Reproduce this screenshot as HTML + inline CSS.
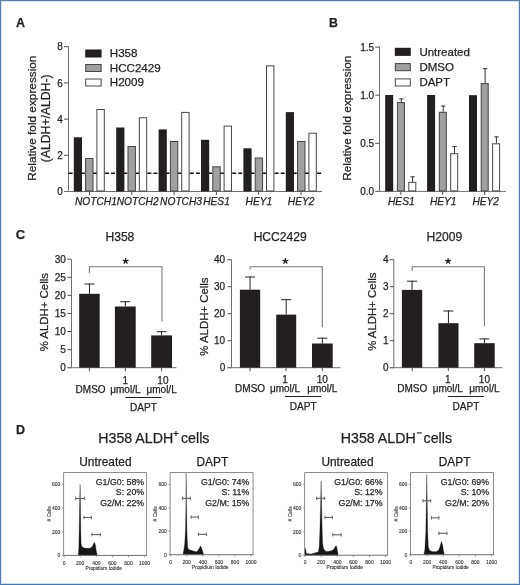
<!DOCTYPE html>
<html><head><meta charset="utf-8"><style>
html,body{margin:0;padding:0;background:#fff;}
body{width:520px;height:585px;overflow:hidden;position:relative;}
.frame{position:absolute;left:0;top:0;width:520px;height:585px;box-sizing:border-box;border:1px solid;border-color:#5f7d9e #5c7fa3 #4a78ad #5a80aa;}
.frame2{position:absolute;left:1px;top:1px;width:518px;height:583px;box-sizing:border-box;border:1px solid #cfe2f4;}
svg{position:absolute;left:0;top:0;font-family:"Liberation Sans", sans-serif;filter:blur(0.3px);}
</style></head><body>
<svg width="520" height="585" viewBox="0 0 520 585">
<text x="16" y="27.3" font-size="12.5" text-anchor="start" font-weight="bold" fill="#231f20" stroke="#231f20" stroke-width="0.25">A</text>
<line x1="68.5" y1="46.5" x2="68.5" y2="191.5" stroke="#707070" stroke-width="1"/>
<line x1="64" y1="191.5" x2="68.5" y2="191.5" stroke="#505050" stroke-width="1"/>
<text x="62.8" y="195.1" font-size="10" text-anchor="end" fill="#231f20" stroke="#231f20" stroke-width="0.25">0</text>
<line x1="64" y1="155.3" x2="68.5" y2="155.3" stroke="#505050" stroke-width="1"/>
<text x="62.8" y="158.9" font-size="10" text-anchor="end" fill="#231f20" stroke="#231f20" stroke-width="0.25">2</text>
<line x1="64" y1="119.1" x2="68.5" y2="119.1" stroke="#505050" stroke-width="1"/>
<text x="62.8" y="122.69999999999999" font-size="10" text-anchor="end" fill="#231f20" stroke="#231f20" stroke-width="0.25">4</text>
<line x1="64" y1="82.89999999999999" x2="68.5" y2="82.89999999999999" stroke="#505050" stroke-width="1"/>
<text x="62.8" y="86.49999999999999" font-size="10" text-anchor="end" fill="#231f20" stroke="#231f20" stroke-width="0.25">6</text>
<line x1="64" y1="46.69999999999999" x2="68.5" y2="46.69999999999999" stroke="#505050" stroke-width="1"/>
<text x="62.8" y="50.29999999999999" font-size="10" text-anchor="end" fill="#231f20" stroke="#231f20" stroke-width="0.25">8</text>
<line x1="64" y1="191.5" x2="322" y2="191.5" stroke="#707070" stroke-width="1"/>
<text x="36.2" y="118.2" font-size="11.8" text-anchor="middle" fill="#231f20" stroke="#231f20" stroke-width="0.25" transform="rotate(-90 36.2 118.2)">Relative fold expression</text>
<text x="50.0" y="118.3" font-size="12.2" text-anchor="middle" fill="#231f20" stroke="#231f20" stroke-width="0.25" transform="rotate(-90 50.0 118.3)">(ALDH+/ALDH-)</text>
<line x1="68.6" y1="173.3" x2="322.6" y2="173.3" stroke="#111" stroke-width="1.6" stroke-dasharray="4 2.06"/>
<rect x="73.8" y="137.3" width="8.2" height="54.19999999999999" fill="#231f20"/>
<rect x="85.6" y="158.5" width="7.4" height="32.5" fill="#a0a0a0" stroke="#444444" stroke-width="1"/>
<rect x="96.9" y="109.5" width="7.4" height="81.5" fill="#fff" stroke="#484848" stroke-width="1"/>
<rect x="116.19999999999999" y="127.5" width="8.2" height="64.0" fill="#231f20"/>
<rect x="128.0" y="146.5" width="7.4" height="44.5" fill="#a0a0a0" stroke="#444444" stroke-width="1"/>
<rect x="139.3" y="117.8" width="7.4" height="73.2" fill="#fff" stroke="#484848" stroke-width="1"/>
<rect x="158.6" y="129.4" width="8.2" height="62.099999999999994" fill="#231f20"/>
<rect x="170.39999999999998" y="141.5" width="7.4" height="49.5" fill="#a0a0a0" stroke="#444444" stroke-width="1"/>
<rect x="181.7" y="112.4" width="7.4" height="78.6" fill="#fff" stroke="#484848" stroke-width="1"/>
<rect x="201.0" y="139.8" width="8.2" height="51.69999999999999" fill="#231f20"/>
<rect x="212.79999999999998" y="166.8" width="7.4" height="24.19999999999999" fill="#a0a0a0" stroke="#444444" stroke-width="1"/>
<rect x="224.1" y="126.1" width="7.4" height="64.9" fill="#fff" stroke="#484848" stroke-width="1"/>
<rect x="243.39999999999998" y="148.3" width="8.2" height="43.19999999999999" fill="#231f20"/>
<rect x="255.2" y="158.0" width="7.4" height="33.0" fill="#a0a0a0" stroke="#444444" stroke-width="1"/>
<rect x="266.5" y="65.9" width="7.4" height="125.1" fill="#fff" stroke="#484848" stroke-width="1"/>
<rect x="285.8" y="112.1" width="8.2" height="79.4" fill="#231f20"/>
<rect x="297.6" y="141.5" width="7.4" height="49.5" fill="#a0a0a0" stroke="#444444" stroke-width="1"/>
<rect x="308.9" y="133.2" width="7.4" height="57.80000000000001" fill="#fff" stroke="#484848" stroke-width="1"/>
<line x1="89.5" y1="191.5" x2="89.5" y2="195" stroke="#505050" stroke-width="1"/>
<line x1="131.8" y1="191.5" x2="131.8" y2="195" stroke="#505050" stroke-width="1"/>
<line x1="174.1" y1="191.5" x2="174.1" y2="195" stroke="#505050" stroke-width="1"/>
<line x1="216.39999999999998" y1="191.5" x2="216.39999999999998" y2="195" stroke="#505050" stroke-width="1"/>
<line x1="258.7" y1="191.5" x2="258.7" y2="195" stroke="#505050" stroke-width="1"/>
<line x1="301.0" y1="191.5" x2="301.0" y2="195" stroke="#505050" stroke-width="1"/>
<text x="75.0" y="204.8" font-size="10.2" text-anchor="start" font-style="italic" fill="#231f20" stroke="#231f20" stroke-width="0.25">NOTCH1</text>
<text x="116.7" y="204.8" font-size="10.2" text-anchor="start" font-style="italic" fill="#231f20" stroke="#231f20" stroke-width="0.25">NOTCH2</text>
<text x="160.10000000000002" y="204.8" font-size="10.2" text-anchor="start" font-style="italic" fill="#231f20" stroke="#231f20" stroke-width="0.25">NOTCH3</text>
<text x="203.20000000000002" y="204.8" font-size="10.2" text-anchor="start" font-style="italic" fill="#231f20" stroke="#231f20" stroke-width="0.25">HES1</text>
<text x="245.60000000000002" y="204.8" font-size="10.2" text-anchor="start" font-style="italic" fill="#231f20" stroke="#231f20" stroke-width="0.25">HEY1</text>
<text x="287.8" y="204.8" font-size="10.2" text-anchor="start" font-style="italic" fill="#231f20" stroke="#231f20" stroke-width="0.25">HEY2</text>
<rect x="85.2" y="49.5" width="16.4" height="8" fill="#231f20"/>
<text x="109.8" y="57.0" font-size="11.6" text-anchor="start" fill="#231f20" stroke="#231f20" stroke-width="0.25">H358</text>
<rect x="85.7" y="64.5" width="15.399999999999999" height="7" fill="#a0a0a0" stroke="#444444" stroke-width="1"/>
<text x="109.8" y="71.5" font-size="11.6" text-anchor="start" fill="#231f20" stroke="#231f20" stroke-width="0.25">HCC2429</text>
<rect x="85.7" y="79.0" width="15.399999999999999" height="7" fill="#fff" stroke="#484848" stroke-width="1"/>
<text x="109.8" y="86.0" font-size="11.6" text-anchor="start" fill="#231f20" stroke="#231f20" stroke-width="0.25">H2009</text>
<text x="329.0" y="27.0" font-size="12.3" text-anchor="start" font-weight="bold" fill="#231f20" stroke="#231f20" stroke-width="0.25">B</text>
<line x1="379.5" y1="46.5" x2="379.5" y2="191.4" stroke="#707070" stroke-width="1"/>
<line x1="375.2" y1="191.4" x2="379.5" y2="191.4" stroke="#505050" stroke-width="1"/>
<text x="374.2" y="195.0" font-size="10" text-anchor="end" fill="#231f20" stroke="#231f20" stroke-width="0.25">0.0</text>
<line x1="375.2" y1="143.3" x2="379.5" y2="143.3" stroke="#505050" stroke-width="1"/>
<text x="374.2" y="146.9" font-size="10" text-anchor="end" fill="#231f20" stroke="#231f20" stroke-width="0.25">0.5</text>
<line x1="375.2" y1="95.2" x2="379.5" y2="95.2" stroke="#505050" stroke-width="1"/>
<text x="374.2" y="98.8" font-size="10" text-anchor="end" fill="#231f20" stroke="#231f20" stroke-width="0.25">1.0</text>
<line x1="375.2" y1="47.099999999999994" x2="379.5" y2="47.099999999999994" stroke="#505050" stroke-width="1"/>
<text x="374.2" y="50.699999999999996" font-size="10" text-anchor="end" fill="#231f20" stroke="#231f20" stroke-width="0.25">1.5</text>
<line x1="375.2" y1="191.4" x2="506" y2="191.4" stroke="#707070" stroke-width="1"/>
<text x="351.2" y="118.2" font-size="11.8" text-anchor="middle" fill="#231f20" stroke="#231f20" stroke-width="0.25" transform="rotate(-90 351.2 118.2)">Relative fold expression</text>
<rect x="385.2" y="95" width="8" height="96.4" fill="#231f20"/>
<line x1="401.29999999999995" y1="98.4" x2="401.29999999999995" y2="102.1" stroke="#333" stroke-width="1"/>
<line x1="399.09999999999997" y1="98.9" x2="403.5" y2="98.9" stroke="#333" stroke-width="1"/>
<rect x="397.4" y="102.6" width="7" height="88.30000000000001" fill="#a0a0a0" stroke="#444444" stroke-width="1"/>
<line x1="412.6" y1="176.3" x2="412.6" y2="181.8" stroke="#333" stroke-width="1"/>
<line x1="410.40000000000003" y1="176.8" x2="414.8" y2="176.8" stroke="#333" stroke-width="1"/>
<rect x="408.8" y="182.3" width="7" height="8.599999999999994" fill="#fff" stroke="#484848" stroke-width="1"/>
<line x1="400.9" y1="191.4" x2="400.9" y2="195" stroke="#505050" stroke-width="1"/>
<rect x="427.09999999999997" y="95" width="8" height="96.4" fill="#231f20"/>
<line x1="443.19999999999993" y1="105.6" x2="443.19999999999993" y2="111.8" stroke="#333" stroke-width="1"/>
<line x1="440.99999999999994" y1="106.1" x2="445.4" y2="106.1" stroke="#333" stroke-width="1"/>
<rect x="439.29999999999995" y="112.3" width="7" height="78.60000000000001" fill="#a0a0a0" stroke="#444444" stroke-width="1"/>
<line x1="454.5" y1="146" x2="454.5" y2="153.2" stroke="#333" stroke-width="1"/>
<line x1="452.3" y1="146.5" x2="456.7" y2="146.5" stroke="#333" stroke-width="1"/>
<rect x="450.7" y="153.7" width="7" height="37.20000000000002" fill="#fff" stroke="#484848" stroke-width="1"/>
<line x1="442.79999999999995" y1="191.4" x2="442.79999999999995" y2="195" stroke="#505050" stroke-width="1"/>
<rect x="469.0" y="95.2" width="8" height="96.2" fill="#231f20"/>
<line x1="485.09999999999997" y1="68.2" x2="485.09999999999997" y2="83.1" stroke="#333" stroke-width="1"/>
<line x1="482.9" y1="68.7" x2="487.3" y2="68.7" stroke="#333" stroke-width="1"/>
<rect x="481.2" y="83.6" width="7" height="107.30000000000001" fill="#a0a0a0" stroke="#444444" stroke-width="1"/>
<line x1="496.40000000000003" y1="136.4" x2="496.40000000000003" y2="143.3" stroke="#333" stroke-width="1"/>
<line x1="494.20000000000005" y1="136.9" x2="498.6" y2="136.9" stroke="#333" stroke-width="1"/>
<rect x="492.6" y="143.8" width="7" height="47.099999999999994" fill="#fff" stroke="#484848" stroke-width="1"/>
<line x1="484.7" y1="191.4" x2="484.7" y2="195" stroke="#505050" stroke-width="1"/>
<text x="401.3" y="204.8" font-size="10.2" text-anchor="middle" font-style="italic" fill="#231f20" stroke="#231f20" stroke-width="0.25">HES1</text>
<text x="443.2" y="204.8" font-size="10.2" text-anchor="middle" font-style="italic" fill="#231f20" stroke="#231f20" stroke-width="0.25">HEY1</text>
<text x="485.7" y="204.8" font-size="10.2" text-anchor="middle" font-style="italic" fill="#231f20" stroke="#231f20" stroke-width="0.25">HEY2</text>
<rect x="394.8" y="47.8" width="16" height="8.1" fill="#231f20"/>
<text x="419.4" y="55.699999999999996" font-size="11.5" text-anchor="start" fill="#231f20" stroke="#231f20" stroke-width="0.25">Untreated</text>
<rect x="395.3" y="63.599999999999994" width="15" height="7.1" fill="#a0a0a0" stroke="#444444" stroke-width="1"/>
<text x="419.4" y="71.0" font-size="11.5" text-anchor="start" fill="#231f20" stroke="#231f20" stroke-width="0.25">DMSO</text>
<rect x="395.3" y="78.9" width="15" height="7.1" fill="#fff" stroke="#484848" stroke-width="1"/>
<text x="419.4" y="86.30000000000001" font-size="11.5" text-anchor="start" fill="#231f20" stroke="#231f20" stroke-width="0.25">DAPT</text>
<text x="15.7" y="239.0" font-size="13" text-anchor="start" font-weight="bold" fill="#231f20" stroke="#231f20" stroke-width="0.25">C</text>
<line x1="71.5" y1="259.5" x2="71.5" y2="367.7" stroke="#707070" stroke-width="1"/>
<line x1="67.5" y1="367.7" x2="71.5" y2="367.7" stroke="#505050" stroke-width="1"/>
<text x="65.8" y="371.3" font-size="10" text-anchor="end" fill="#231f20" stroke="#231f20" stroke-width="0.25">0</text>
<line x1="67.5" y1="349.615" x2="71.5" y2="349.615" stroke="#505050" stroke-width="1"/>
<text x="65.8" y="353.21500000000003" font-size="10" text-anchor="end" fill="#231f20" stroke="#231f20" stroke-width="0.25">5</text>
<line x1="67.5" y1="331.53" x2="71.5" y2="331.53" stroke="#505050" stroke-width="1"/>
<text x="65.8" y="335.13" font-size="10" text-anchor="end" fill="#231f20" stroke="#231f20" stroke-width="0.25">10</text>
<line x1="67.5" y1="313.445" x2="71.5" y2="313.445" stroke="#505050" stroke-width="1"/>
<text x="65.8" y="317.045" font-size="10" text-anchor="end" fill="#231f20" stroke="#231f20" stroke-width="0.25">15</text>
<line x1="67.5" y1="295.36" x2="71.5" y2="295.36" stroke="#505050" stroke-width="1"/>
<text x="65.8" y="298.96000000000004" font-size="10" text-anchor="end" fill="#231f20" stroke="#231f20" stroke-width="0.25">20</text>
<line x1="67.5" y1="277.275" x2="71.5" y2="277.275" stroke="#505050" stroke-width="1"/>
<text x="65.8" y="280.875" font-size="10" text-anchor="end" fill="#231f20" stroke="#231f20" stroke-width="0.25">25</text>
<line x1="67.5" y1="259.19" x2="71.5" y2="259.19" stroke="#505050" stroke-width="1"/>
<text x="65.8" y="262.79" font-size="10" text-anchor="end" fill="#231f20" stroke="#231f20" stroke-width="0.25">30</text>
<line x1="67.5" y1="367.7" x2="176.5" y2="367.7" stroke="#707070" stroke-width="1"/>
<text x="119.9" y="240.6" font-size="12.1" text-anchor="middle" fill="#231f20" stroke="#231f20" stroke-width="0.25">H358</text>
<line x1="89.45" y1="283.5" x2="89.45" y2="293.8" stroke="#222" stroke-width="1"/>
<line x1="84.45" y1="284.0" x2="94.45" y2="284.0" stroke="#222" stroke-width="1"/>
<rect x="79.2" y="293.8" width="20.5" height="73.89999999999998" fill="#231f20"/>
<line x1="125.3" y1="301.2" x2="125.3" y2="306.5" stroke="#222" stroke-width="1"/>
<line x1="120.3" y1="301.7" x2="130.3" y2="301.7" stroke="#222" stroke-width="1"/>
<rect x="114.9" y="306.5" width="20.799999999999983" height="61.19999999999999" fill="#231f20"/>
<line x1="161.6" y1="331.2" x2="161.6" y2="335.4" stroke="#222" stroke-width="1"/>
<line x1="156.6" y1="331.7" x2="166.6" y2="331.7" stroke="#222" stroke-width="1"/>
<rect x="151.2" y="335.4" width="20.80000000000001" height="32.30000000000001" fill="#231f20"/>
<line x1="89.4" y1="367.7" x2="89.4" y2="371.2" stroke="#505050" stroke-width="1"/>
<line x1="125.4" y1="367.7" x2="125.4" y2="371.2" stroke="#505050" stroke-width="1"/>
<line x1="161.6" y1="367.7" x2="161.6" y2="371.2" stroke="#505050" stroke-width="1"/>
<polyline points="89.4,273 89.4,266.8 162,266.8 162,321.5" fill="none" stroke="#7a7a7a" stroke-width="1.1"/>
<path d="M125.60 261.10 L125.60 258.55 M125.60 261.10 L128.03 260.31 M125.60 261.10 L127.10 263.16 M125.60 261.10 L124.10 263.16 M125.60 261.10 L123.17 260.31 " stroke="#1a1a1a" stroke-width="1.3" stroke-linecap="round" fill="none"/>
<text x="90.60000000000001" y="392.8" font-size="10" text-anchor="middle" fill="#231f20" stroke="#231f20" stroke-width="0.25">DMSO</text>
<text x="125.4" y="383.6" font-size="10" text-anchor="middle" fill="#231f20" stroke="#231f20" stroke-width="0.25">1</text>
<text x="125.4" y="392.8" font-size="10" text-anchor="middle" fill="#231f20" stroke="#231f20" stroke-width="0.25">μmol/L</text>
<text x="162.9" y="383.6" font-size="10" text-anchor="middle" fill="#231f20" stroke="#231f20" stroke-width="0.25">10</text>
<text x="161.6" y="392.8" font-size="10" text-anchor="middle" fill="#231f20" stroke="#231f20" stroke-width="0.25">μmol/L</text>
<line x1="125.4" y1="397.5" x2="161.6" y2="397.5" stroke="#222" stroke-width="1"/>
<text x="143.5" y="410.6" font-size="10.1" text-anchor="middle" fill="#231f20" stroke="#231f20" stroke-width="0.25">DAPT</text>
<text x="48.0" y="312.2" font-size="11.4" text-anchor="middle" fill="#231f20" stroke="#231f20" stroke-width="0.25" transform="rotate(-90 48.0 312.2)">% ALDH+ Cells</text>
<line x1="231.5" y1="259.5" x2="231.5" y2="367.7" stroke="#707070" stroke-width="1"/>
<line x1="227.5" y1="367.7" x2="231.5" y2="367.7" stroke="#505050" stroke-width="1"/>
<text x="225.2" y="371.3" font-size="10" text-anchor="end" fill="#231f20" stroke="#231f20" stroke-width="0.25">0</text>
<line x1="227.5" y1="340.7" x2="231.5" y2="340.7" stroke="#505050" stroke-width="1"/>
<text x="225.2" y="344.3" font-size="10" text-anchor="end" fill="#231f20" stroke="#231f20" stroke-width="0.25">10</text>
<line x1="227.5" y1="313.7" x2="231.5" y2="313.7" stroke="#505050" stroke-width="1"/>
<text x="225.2" y="317.3" font-size="10" text-anchor="end" fill="#231f20" stroke="#231f20" stroke-width="0.25">20</text>
<line x1="227.5" y1="286.7" x2="231.5" y2="286.7" stroke="#505050" stroke-width="1"/>
<text x="225.2" y="290.3" font-size="10" text-anchor="end" fill="#231f20" stroke="#231f20" stroke-width="0.25">30</text>
<line x1="227.5" y1="259.7" x2="231.5" y2="259.7" stroke="#505050" stroke-width="1"/>
<text x="225.2" y="263.3" font-size="10" text-anchor="end" fill="#231f20" stroke="#231f20" stroke-width="0.25">40</text>
<line x1="227.5" y1="367.7" x2="340.5" y2="367.7" stroke="#707070" stroke-width="1"/>
<text x="280.2" y="240.6" font-size="12.1" text-anchor="middle" fill="#231f20" stroke="#231f20" stroke-width="0.25">HCC2429</text>
<line x1="250.05" y1="276.5" x2="250.05" y2="289.7" stroke="#222" stroke-width="1"/>
<line x1="245.05" y1="277.0" x2="255.05" y2="277.0" stroke="#222" stroke-width="1"/>
<rect x="239.9" y="289.7" width="20.299999999999983" height="78.0" fill="#231f20"/>
<line x1="286.2" y1="299.2" x2="286.2" y2="314.6" stroke="#222" stroke-width="1"/>
<line x1="281.2" y1="299.7" x2="291.2" y2="299.7" stroke="#222" stroke-width="1"/>
<rect x="276.2" y="314.6" width="20.0" height="53.099999999999966" fill="#231f20"/>
<line x1="322.35" y1="337.7" x2="322.35" y2="343.5" stroke="#222" stroke-width="1"/>
<line x1="317.35" y1="338.2" x2="327.35" y2="338.2" stroke="#222" stroke-width="1"/>
<rect x="312" y="343.5" width="20.69999999999999" height="24.19999999999999" fill="#231f20"/>
<line x1="250.1" y1="367.7" x2="250.1" y2="371.2" stroke="#505050" stroke-width="1"/>
<line x1="286" y1="367.7" x2="286" y2="371.2" stroke="#505050" stroke-width="1"/>
<line x1="322.3" y1="367.7" x2="322.3" y2="371.2" stroke="#505050" stroke-width="1"/>
<polyline points="250.1,269.6 250.1,266.7 322.3,266.7 322.3,327.3" fill="none" stroke="#7a7a7a" stroke-width="1.1"/>
<path d="M285.40 261.10 L285.40 258.55 M285.40 261.10 L287.83 260.31 M285.40 261.10 L286.90 263.16 M285.40 261.10 L283.90 263.16 M285.40 261.10 L282.97 260.31 " stroke="#1a1a1a" stroke-width="1.3" stroke-linecap="round" fill="none"/>
<text x="250.1" y="392.1" font-size="10" text-anchor="middle" fill="#231f20" stroke="#231f20" stroke-width="0.25">DMSO</text>
<text x="285.0" y="382.8" font-size="10" text-anchor="middle" fill="#231f20" stroke="#231f20" stroke-width="0.25">1</text>
<text x="285.0" y="392.0" font-size="10" text-anchor="middle" fill="#231f20" stroke="#231f20" stroke-width="0.25">μmol/L</text>
<text x="322.3" y="382.8" font-size="10" text-anchor="middle" fill="#231f20" stroke="#231f20" stroke-width="0.25">10</text>
<text x="322.3" y="392.0" font-size="10" text-anchor="middle" fill="#231f20" stroke="#231f20" stroke-width="0.25">μmol/L</text>
<line x1="285.0" y1="396.5" x2="321.3" y2="396.5" stroke="#222" stroke-width="1"/>
<text x="303.15" y="409.8" font-size="10.1" text-anchor="middle" fill="#231f20" stroke="#231f20" stroke-width="0.25">DAPT</text>
<text x="208.5" y="316.6" font-size="11.4" text-anchor="middle" fill="#231f20" stroke="#231f20" stroke-width="0.25" transform="rotate(-90 208.5 316.6)">% ALDH+ Cells</text>
<line x1="393.8" y1="259.5" x2="393.8" y2="367.7" stroke="#707070" stroke-width="1"/>
<line x1="389.8" y1="367.7" x2="393.8" y2="367.7" stroke="#505050" stroke-width="1"/>
<text x="388.5" y="371.3" font-size="10" text-anchor="end" fill="#231f20" stroke="#231f20" stroke-width="0.25">0</text>
<line x1="389.8" y1="340.7" x2="393.8" y2="340.7" stroke="#505050" stroke-width="1"/>
<text x="388.5" y="344.3" font-size="10" text-anchor="end" fill="#231f20" stroke="#231f20" stroke-width="0.25">1</text>
<line x1="389.8" y1="313.7" x2="393.8" y2="313.7" stroke="#505050" stroke-width="1"/>
<text x="388.5" y="317.3" font-size="10" text-anchor="end" fill="#231f20" stroke="#231f20" stroke-width="0.25">2</text>
<line x1="389.8" y1="286.7" x2="393.8" y2="286.7" stroke="#505050" stroke-width="1"/>
<text x="388.5" y="290.3" font-size="10" text-anchor="end" fill="#231f20" stroke="#231f20" stroke-width="0.25">3</text>
<line x1="389.8" y1="259.7" x2="393.8" y2="259.7" stroke="#505050" stroke-width="1"/>
<text x="388.5" y="263.3" font-size="10" text-anchor="end" fill="#231f20" stroke="#231f20" stroke-width="0.25">4</text>
<line x1="389.8" y1="367.7" x2="502.5" y2="367.7" stroke="#707070" stroke-width="1"/>
<text x="444.4" y="240.6" font-size="12.1" text-anchor="middle" fill="#231f20" stroke="#231f20" stroke-width="0.25">H2009</text>
<line x1="412.04999999999995" y1="280.7" x2="412.04999999999995" y2="289.9" stroke="#222" stroke-width="1"/>
<line x1="407.04999999999995" y1="281.2" x2="417.04999999999995" y2="281.2" stroke="#222" stroke-width="1"/>
<rect x="401.9" y="289.9" width="20.30000000000001" height="77.80000000000001" fill="#231f20"/>
<line x1="448.45" y1="310.5" x2="448.45" y2="323.2" stroke="#222" stroke-width="1"/>
<line x1="443.45" y1="311.0" x2="453.45" y2="311.0" stroke="#222" stroke-width="1"/>
<rect x="438.4" y="323.2" width="20.100000000000023" height="44.5" fill="#231f20"/>
<line x1="484.45" y1="338.4" x2="484.45" y2="343.2" stroke="#222" stroke-width="1"/>
<line x1="479.45" y1="338.9" x2="489.45" y2="338.9" stroke="#222" stroke-width="1"/>
<rect x="474.2" y="343.2" width="20.5" height="24.5" fill="#231f20"/>
<line x1="412.2" y1="367.7" x2="412.2" y2="371.2" stroke="#505050" stroke-width="1"/>
<line x1="448.3" y1="367.7" x2="448.3" y2="371.2" stroke="#505050" stroke-width="1"/>
<line x1="484.4" y1="367.7" x2="484.4" y2="371.2" stroke="#505050" stroke-width="1"/>
<polyline points="412.2,270.8 412.2,266.8 484.4,266.8 484.4,326.2" fill="none" stroke="#7a7a7a" stroke-width="1.1"/>
<path d="M448.10 261.10 L448.10 258.55 M448.10 261.10 L450.53 260.31 M448.10 261.10 L449.60 263.16 M448.10 261.10 L446.60 263.16 M448.10 261.10 L445.67 260.31 " stroke="#1a1a1a" stroke-width="1.3" stroke-linecap="round" fill="none"/>
<text x="412.3" y="392.2" font-size="10" text-anchor="middle" fill="#231f20" stroke="#231f20" stroke-width="0.25">DMSO</text>
<text x="447.8" y="382.6" font-size="10" text-anchor="middle" fill="#231f20" stroke="#231f20" stroke-width="0.25">1</text>
<text x="447.8" y="391.8" font-size="10" text-anchor="middle" fill="#231f20" stroke="#231f20" stroke-width="0.25">μmol/L</text>
<text x="484.4" y="382.6" font-size="10" text-anchor="middle" fill="#231f20" stroke="#231f20" stroke-width="0.25">10</text>
<text x="484.4" y="391.8" font-size="10" text-anchor="middle" fill="#231f20" stroke="#231f20" stroke-width="0.25">μmol/L</text>
<line x1="447.8" y1="396.5" x2="483.9" y2="396.5" stroke="#222" stroke-width="1"/>
<text x="465.85" y="409.6" font-size="10.1" text-anchor="middle" fill="#231f20" stroke="#231f20" stroke-width="0.25">DAPT</text>
<text x="376.5" y="311.7" font-size="11.4" text-anchor="middle" fill="#231f20" stroke="#231f20" stroke-width="0.25" transform="rotate(-90 376.5 311.7)">% ALDH+ Cells</text>
<text x="16.0" y="434.4" font-size="12.5" text-anchor="start" font-weight="bold" fill="#231f20" stroke="#231f20" stroke-width="0.25">D</text>
<text x="98.3" y="443.2" font-size="14.2" text-anchor="start" fill="#231f20" stroke="#231f20" stroke-width="0.25">H358 ALDH</text>
<line x1="173.4" y1="433.5" x2="178.5" y2="433.5" stroke="#231f20" stroke-width="1.1"/>
<line x1="175.95" y1="430.9" x2="175.95" y2="436.0" stroke="#231f20" stroke-width="1.1"/>
<text x="181.0" y="443.2" font-size="14.2" text-anchor="start" fill="#231f20" stroke="#231f20" stroke-width="0.25">cells</text>
<text x="340.8" y="443.4" font-size="14.2" text-anchor="start" fill="#231f20" stroke="#231f20" stroke-width="0.25">H358 ALDH</text>
<line x1="416.9" y1="432.9" x2="421.9" y2="432.9" stroke="#231f20" stroke-width="1.1"/>
<text x="423.6" y="443.4" font-size="14.2" text-anchor="start" fill="#231f20" stroke="#231f20" stroke-width="0.25">cells</text>
<text x="105.4" y="466.1" font-size="11.9" text-anchor="middle" fill="#231f20" stroke="#231f20" stroke-width="0.25">Untreated</text>
<text x="212.3" y="466.1" font-size="11.9" text-anchor="middle" fill="#231f20" stroke="#231f20" stroke-width="0.25">DAPT</text>
<text x="347.5" y="466.0" font-size="11.9" text-anchor="middle" fill="#231f20" stroke="#231f20" stroke-width="0.25">Untreated</text>
<text x="454.6" y="466.1" font-size="11.9" text-anchor="middle" fill="#231f20" stroke="#231f20" stroke-width="0.25">DAPT</text>
<path d="M78.2 555.4 L78.8 548 L79.2 530 L79.6 505 L80.1 484.4 L80.5 505 L80.8 530 L81.1 543.5 L81.9 546.5 L83 547.6 L86 548.3 L90 548.3 L92.3 546.5 L93.6 543.6 L94.4 542.2 L95.3 544.5 L96.3 551 L97.3 555.4 Z" fill="#161616" stroke="#161616" stroke-width="0.3" stroke-linejoin="round"/>
<polyline points="63.6,555.4 63.6,472.5 146.6,472.5 146.6,555.4" fill="none" stroke="#8c8c8c" stroke-width="1"/>
<line x1="63.1" y1="555.4" x2="147.1" y2="555.4" stroke="#707070" stroke-width="1"/>
<line x1="62.1" y1="555.4" x2="63.6" y2="555.4" stroke="#777" stroke-width="0.8"/>
<text x="60.4" y="557.4" font-size="5" text-anchor="end" fill="#333" stroke="#333" stroke-width="0.12">0</text>
<line x1="62.1" y1="531.7333333333333" x2="63.6" y2="531.7333333333333" stroke="#777" stroke-width="0.8"/>
<text x="60.4" y="533.7333333333333" font-size="5" text-anchor="end" fill="#333" stroke="#333" stroke-width="0.12">200</text>
<line x1="62.1" y1="508.06666666666666" x2="63.6" y2="508.06666666666666" stroke="#777" stroke-width="0.8"/>
<text x="60.4" y="510.06666666666666" font-size="5" text-anchor="end" fill="#333" stroke="#333" stroke-width="0.12">400</text>
<line x1="62.1" y1="484.4" x2="63.6" y2="484.4" stroke="#777" stroke-width="0.8"/>
<text x="60.4" y="486.4" font-size="5" text-anchor="end" fill="#333" stroke="#333" stroke-width="0.12">600</text>
<line x1="62.6" y1="543.5666666666666" x2="63.6" y2="543.5666666666666" stroke="#aaa" stroke-width="0.6"/>
<line x1="62.6" y1="519.9" x2="63.6" y2="519.9" stroke="#aaa" stroke-width="0.6"/>
<line x1="62.6" y1="496.2333333333333" x2="63.6" y2="496.2333333333333" stroke="#aaa" stroke-width="0.6"/>
<text x="51.0" y="513.8" font-size="5" text-anchor="middle" fill="#333" stroke="#333" stroke-width="0.12" transform="rotate(-90 51.0 513.8)"># Cells</text>
<line x1="64.1" y1="555.4" x2="64.1" y2="557.1999999999999" stroke="#777" stroke-width="0.8"/>
<text x="64.1" y="564.6" font-size="5" text-anchor="middle" fill="#333" stroke="#333" stroke-width="0.12">0</text>
<line x1="80.19999999999999" y1="555.4" x2="80.19999999999999" y2="557.1999999999999" stroke="#777" stroke-width="0.8"/>
<text x="80.19999999999999" y="564.6" font-size="5" text-anchor="middle" fill="#333" stroke="#333" stroke-width="0.12">200</text>
<line x1="96.3" y1="555.4" x2="96.3" y2="557.1999999999999" stroke="#777" stroke-width="0.8"/>
<text x="96.3" y="564.6" font-size="5" text-anchor="middle" fill="#333" stroke="#333" stroke-width="0.12">400</text>
<line x1="112.4" y1="555.4" x2="112.4" y2="557.1999999999999" stroke="#777" stroke-width="0.8"/>
<text x="112.4" y="564.6" font-size="5" text-anchor="middle" fill="#333" stroke="#333" stroke-width="0.12">600</text>
<line x1="128.5" y1="555.4" x2="128.5" y2="557.1999999999999" stroke="#777" stroke-width="0.8"/>
<text x="128.5" y="564.6" font-size="5" text-anchor="middle" fill="#333" stroke="#333" stroke-width="0.12">800</text>
<line x1="144.6" y1="555.4" x2="144.6" y2="557.1999999999999" stroke="#777" stroke-width="0.8"/>
<text x="144.6" y="564.6" font-size="5" text-anchor="middle" fill="#333" stroke="#333" stroke-width="0.12">1000</text>
<line x1="72.14999999999999" y1="555.4" x2="72.14999999999999" y2="556.6" stroke="#aaa" stroke-width="0.6"/>
<line x1="88.25" y1="555.4" x2="88.25" y2="556.6" stroke="#aaa" stroke-width="0.6"/>
<line x1="104.35" y1="555.4" x2="104.35" y2="556.6" stroke="#aaa" stroke-width="0.6"/>
<line x1="120.44999999999999" y1="555.4" x2="120.44999999999999" y2="556.6" stroke="#aaa" stroke-width="0.6"/>
<line x1="136.55" y1="555.4" x2="136.55" y2="556.6" stroke="#aaa" stroke-width="0.6"/>
<text x="103.75" y="569.6" font-size="4.85" text-anchor="middle" fill="#333" stroke="#333" stroke-width="0.12">Propidium Iodide</text>
<line x1="75.3" y1="498.5" x2="84.7" y2="498.5" stroke="#5e5e5e" stroke-width="1.1"/>
<line x1="75.7" y1="496.8" x2="75.7" y2="500.2" stroke="#5e5e5e" stroke-width="0.9"/>
<line x1="84.3" y1="496.8" x2="84.3" y2="500.2" stroke="#5e5e5e" stroke-width="0.9"/>
<line x1="83.6" y1="517.5" x2="91.8" y2="517.5" stroke="#5e5e5e" stroke-width="1.1"/>
<line x1="84.0" y1="515.8" x2="84.0" y2="519.2" stroke="#5e5e5e" stroke-width="0.9"/>
<line x1="91.39999999999999" y1="515.8" x2="91.39999999999999" y2="519.2" stroke="#5e5e5e" stroke-width="0.9"/>
<line x1="91.5" y1="534.6" x2="100.7" y2="534.6" stroke="#5e5e5e" stroke-width="1.1"/>
<line x1="91.9" y1="532.9" x2="91.9" y2="536.3000000000001" stroke="#5e5e5e" stroke-width="0.9"/>
<line x1="100.3" y1="532.9" x2="100.3" y2="536.3000000000001" stroke="#5e5e5e" stroke-width="0.9"/>
<text x="144.2" y="484.7" font-size="8.8" text-anchor="end" fill="#2a2a2a" stroke="#2a2a2a" stroke-width="0.25">G1/G0: 58%</text>
<text x="144.2" y="495.45" font-size="8.8" text-anchor="end" fill="#2a2a2a" stroke="#2a2a2a" stroke-width="0.25">S: 20%</text>
<text x="144.2" y="506.2" font-size="8.8" text-anchor="end" fill="#2a2a2a" stroke="#2a2a2a" stroke-width="0.25">G2/M: 22%</text>
<path d="M182.9 554.7 L184.0 549 L184.8 543 L185.5 530 L185.9 505 L186.1 472.5 L186.5 505 L186.9 530 L187.4 543 L187.9 547.9 L189 549.8 L191.5 550.2 L194 551.3 L196.8 551.8 L198.5 549.5 L200.6 546 L201.8 548.5 L203 552.5 L203.8 554.7 Z" fill="#161616" stroke="#161616" stroke-width="0.3" stroke-linejoin="round"/>
<polyline points="170.1,554.7 170.1,472.5 253.1,472.5 253.1,554.7" fill="none" stroke="#8c8c8c" stroke-width="1"/>
<line x1="169.6" y1="554.7" x2="253.6" y2="554.7" stroke="#707070" stroke-width="1"/>
<line x1="168.6" y1="554.7" x2="170.1" y2="554.7" stroke="#777" stroke-width="0.8"/>
<text x="166.9" y="556.7" font-size="5" text-anchor="end" fill="#333" stroke="#333" stroke-width="0.12">0</text>
<line x1="168.6" y1="531.2666666666667" x2="170.1" y2="531.2666666666667" stroke="#777" stroke-width="0.8"/>
<text x="166.9" y="533.2666666666667" font-size="5" text-anchor="end" fill="#333" stroke="#333" stroke-width="0.12">200</text>
<line x1="168.6" y1="507.8333333333333" x2="170.1" y2="507.8333333333333" stroke="#777" stroke-width="0.8"/>
<text x="166.9" y="509.8333333333333" font-size="5" text-anchor="end" fill="#333" stroke="#333" stroke-width="0.12">400</text>
<line x1="168.6" y1="484.4" x2="170.1" y2="484.4" stroke="#777" stroke-width="0.8"/>
<text x="166.9" y="486.4" font-size="5" text-anchor="end" fill="#333" stroke="#333" stroke-width="0.12">600</text>
<line x1="169.1" y1="542.9833333333333" x2="170.1" y2="542.9833333333333" stroke="#aaa" stroke-width="0.6"/>
<line x1="169.1" y1="519.55" x2="170.1" y2="519.55" stroke="#aaa" stroke-width="0.6"/>
<line x1="169.1" y1="496.1166666666667" x2="170.1" y2="496.1166666666667" stroke="#aaa" stroke-width="0.6"/>
<text x="157.5" y="513.8" font-size="5" text-anchor="middle" fill="#333" stroke="#333" stroke-width="0.12" transform="rotate(-90 157.5 513.8)"># Cells</text>
<line x1="170.6" y1="554.7" x2="170.6" y2="556.5" stroke="#777" stroke-width="0.8"/>
<text x="170.6" y="563.9000000000001" font-size="5" text-anchor="middle" fill="#333" stroke="#333" stroke-width="0.12">0</text>
<line x1="186.7" y1="554.7" x2="186.7" y2="556.5" stroke="#777" stroke-width="0.8"/>
<text x="186.7" y="563.9000000000001" font-size="5" text-anchor="middle" fill="#333" stroke="#333" stroke-width="0.12">200</text>
<line x1="202.8" y1="554.7" x2="202.8" y2="556.5" stroke="#777" stroke-width="0.8"/>
<text x="202.8" y="563.9000000000001" font-size="5" text-anchor="middle" fill="#333" stroke="#333" stroke-width="0.12">400</text>
<line x1="218.9" y1="554.7" x2="218.9" y2="556.5" stroke="#777" stroke-width="0.8"/>
<text x="218.9" y="563.9000000000001" font-size="5" text-anchor="middle" fill="#333" stroke="#333" stroke-width="0.12">600</text>
<line x1="235.0" y1="554.7" x2="235.0" y2="556.5" stroke="#777" stroke-width="0.8"/>
<text x="235.0" y="563.9000000000001" font-size="5" text-anchor="middle" fill="#333" stroke="#333" stroke-width="0.12">800</text>
<line x1="251.1" y1="554.7" x2="251.1" y2="556.5" stroke="#777" stroke-width="0.8"/>
<text x="251.1" y="563.9000000000001" font-size="5" text-anchor="middle" fill="#333" stroke="#333" stroke-width="0.12">1000</text>
<line x1="178.65" y1="554.7" x2="178.65" y2="555.9000000000001" stroke="#aaa" stroke-width="0.6"/>
<line x1="194.75" y1="554.7" x2="194.75" y2="555.9000000000001" stroke="#aaa" stroke-width="0.6"/>
<line x1="210.85" y1="554.7" x2="210.85" y2="555.9000000000001" stroke="#aaa" stroke-width="0.6"/>
<line x1="226.95" y1="554.7" x2="226.95" y2="555.9000000000001" stroke="#aaa" stroke-width="0.6"/>
<line x1="243.05" y1="554.7" x2="243.05" y2="555.9000000000001" stroke="#aaa" stroke-width="0.6"/>
<text x="210.25" y="568.9000000000001" font-size="4.85" text-anchor="middle" fill="#333" stroke="#333" stroke-width="0.12">Propidium Iodide</text>
<line x1="182" y1="498.4" x2="190.8" y2="498.4" stroke="#5e5e5e" stroke-width="1.1"/>
<line x1="182.4" y1="496.7" x2="182.4" y2="500.09999999999997" stroke="#5e5e5e" stroke-width="0.9"/>
<line x1="190.4" y1="496.7" x2="190.4" y2="500.09999999999997" stroke="#5e5e5e" stroke-width="0.9"/>
<line x1="190.8" y1="517.1" x2="198.8" y2="517.1" stroke="#5e5e5e" stroke-width="1.1"/>
<line x1="191.20000000000002" y1="515.4" x2="191.20000000000002" y2="518.8000000000001" stroke="#5e5e5e" stroke-width="0.9"/>
<line x1="198.4" y1="515.4" x2="198.4" y2="518.8000000000001" stroke="#5e5e5e" stroke-width="0.9"/>
<line x1="198" y1="534.3" x2="206.8" y2="534.3" stroke="#5e5e5e" stroke-width="1.1"/>
<line x1="198.4" y1="532.5999999999999" x2="198.4" y2="536.0" stroke="#5e5e5e" stroke-width="0.9"/>
<line x1="206.4" y1="532.5999999999999" x2="206.4" y2="536.0" stroke="#5e5e5e" stroke-width="0.9"/>
<text x="249.3" y="484.7" font-size="8.8" text-anchor="end" fill="#2a2a2a" stroke="#2a2a2a" stroke-width="0.25">G1/G0: 74%</text>
<text x="249.3" y="495.45" font-size="8.8" text-anchor="end" fill="#2a2a2a" stroke="#2a2a2a" stroke-width="0.25">S: 11%</text>
<text x="249.3" y="506.2" font-size="8.8" text-anchor="end" fill="#2a2a2a" stroke="#2a2a2a" stroke-width="0.25">G2/M: 15%</text>
<path d="M304.7 555.2 L304.7 548.5 L305.6 548.5 L306.3 553.6 L311 553.9 L315.5 552.8 L318.3 552 L319.2 547 L319.9 530 L320.6 505 L321.1 480.8 L321.6 505 L322.2 530 L322.6 543 L323.4 548.3 L324.5 550 L326 551.5 L329 551.2 L332 550.5 L334 549 L335.3 546.5 L336.2 545.4 L337.1 548.5 L338.2 555.2 Z" fill="#161616" stroke="#161616" stroke-width="0.3" stroke-linejoin="round"/>
<polyline points="304.6,555.2 304.6,472.5 387.6,472.5 387.6,555.2" fill="none" stroke="#8c8c8c" stroke-width="1"/>
<line x1="304.1" y1="555.2" x2="388.1" y2="555.2" stroke="#707070" stroke-width="1"/>
<line x1="303.1" y1="555.2" x2="304.6" y2="555.2" stroke="#777" stroke-width="0.8"/>
<text x="301.40000000000003" y="557.2" font-size="5" text-anchor="end" fill="#333" stroke="#333" stroke-width="0.12">0</text>
<line x1="303.1" y1="531.6" x2="304.6" y2="531.6" stroke="#777" stroke-width="0.8"/>
<text x="301.40000000000003" y="533.6" font-size="5" text-anchor="end" fill="#333" stroke="#333" stroke-width="0.12">200</text>
<line x1="303.1" y1="508.0" x2="304.6" y2="508.0" stroke="#777" stroke-width="0.8"/>
<text x="301.40000000000003" y="510.0" font-size="5" text-anchor="end" fill="#333" stroke="#333" stroke-width="0.12">400</text>
<line x1="303.1" y1="484.4" x2="304.6" y2="484.4" stroke="#777" stroke-width="0.8"/>
<text x="301.40000000000003" y="486.4" font-size="5" text-anchor="end" fill="#333" stroke="#333" stroke-width="0.12">600</text>
<line x1="303.6" y1="543.4000000000001" x2="304.6" y2="543.4000000000001" stroke="#aaa" stroke-width="0.6"/>
<line x1="303.6" y1="519.8" x2="304.6" y2="519.8" stroke="#aaa" stroke-width="0.6"/>
<line x1="303.6" y1="496.2" x2="304.6" y2="496.2" stroke="#aaa" stroke-width="0.6"/>
<text x="292.0" y="513.8" font-size="5" text-anchor="middle" fill="#333" stroke="#333" stroke-width="0.12" transform="rotate(-90 292.0 513.8)"># Cells</text>
<line x1="305.1" y1="555.2" x2="305.1" y2="557.0" stroke="#777" stroke-width="0.8"/>
<text x="305.1" y="564.4000000000001" font-size="5" text-anchor="middle" fill="#333" stroke="#333" stroke-width="0.12">0</text>
<line x1="321.20000000000005" y1="555.2" x2="321.20000000000005" y2="557.0" stroke="#777" stroke-width="0.8"/>
<text x="321.20000000000005" y="564.4000000000001" font-size="5" text-anchor="middle" fill="#333" stroke="#333" stroke-width="0.12">200</text>
<line x1="337.3" y1="555.2" x2="337.3" y2="557.0" stroke="#777" stroke-width="0.8"/>
<text x="337.3" y="564.4000000000001" font-size="5" text-anchor="middle" fill="#333" stroke="#333" stroke-width="0.12">400</text>
<line x1="353.40000000000003" y1="555.2" x2="353.40000000000003" y2="557.0" stroke="#777" stroke-width="0.8"/>
<text x="353.40000000000003" y="564.4000000000001" font-size="5" text-anchor="middle" fill="#333" stroke="#333" stroke-width="0.12">600</text>
<line x1="369.5" y1="555.2" x2="369.5" y2="557.0" stroke="#777" stroke-width="0.8"/>
<text x="369.5" y="564.4000000000001" font-size="5" text-anchor="middle" fill="#333" stroke="#333" stroke-width="0.12">800</text>
<line x1="385.6" y1="555.2" x2="385.6" y2="557.0" stroke="#777" stroke-width="0.8"/>
<text x="385.6" y="564.4000000000001" font-size="5" text-anchor="middle" fill="#333" stroke="#333" stroke-width="0.12">1000</text>
<line x1="313.15000000000003" y1="555.2" x2="313.15000000000003" y2="556.4000000000001" stroke="#aaa" stroke-width="0.6"/>
<line x1="329.25" y1="555.2" x2="329.25" y2="556.4000000000001" stroke="#aaa" stroke-width="0.6"/>
<line x1="345.35" y1="555.2" x2="345.35" y2="556.4000000000001" stroke="#aaa" stroke-width="0.6"/>
<line x1="361.45000000000005" y1="555.2" x2="361.45000000000005" y2="556.4000000000001" stroke="#aaa" stroke-width="0.6"/>
<line x1="377.55" y1="555.2" x2="377.55" y2="556.4000000000001" stroke="#aaa" stroke-width="0.6"/>
<text x="344.75" y="569.4000000000001" font-size="4.85" text-anchor="middle" fill="#333" stroke="#333" stroke-width="0.12">Propidium Iodide</text>
<line x1="316.2" y1="498.3" x2="325.1" y2="498.3" stroke="#5e5e5e" stroke-width="1.1"/>
<line x1="316.59999999999997" y1="496.6" x2="316.59999999999997" y2="500.0" stroke="#5e5e5e" stroke-width="0.9"/>
<line x1="324.70000000000005" y1="496.6" x2="324.70000000000005" y2="500.0" stroke="#5e5e5e" stroke-width="0.9"/>
<line x1="324.7" y1="517.4" x2="332.8" y2="517.4" stroke="#5e5e5e" stroke-width="1.1"/>
<line x1="325.09999999999997" y1="515.6999999999999" x2="325.09999999999997" y2="519.1" stroke="#5e5e5e" stroke-width="0.9"/>
<line x1="332.40000000000003" y1="515.6999999999999" x2="332.40000000000003" y2="519.1" stroke="#5e5e5e" stroke-width="0.9"/>
<line x1="332.4" y1="534.8" x2="341.6" y2="534.8" stroke="#5e5e5e" stroke-width="1.1"/>
<line x1="332.79999999999995" y1="533.0999999999999" x2="332.79999999999995" y2="536.5" stroke="#5e5e5e" stroke-width="0.9"/>
<line x1="341.20000000000005" y1="533.0999999999999" x2="341.20000000000005" y2="536.5" stroke="#5e5e5e" stroke-width="0.9"/>
<text x="382.6" y="484.7" font-size="8.8" text-anchor="end" fill="#2a2a2a" stroke="#2a2a2a" stroke-width="0.25">G1/G0: 66%</text>
<text x="382.6" y="495.45" font-size="8.8" text-anchor="end" fill="#2a2a2a" stroke="#2a2a2a" stroke-width="0.25">S: 12%</text>
<text x="382.6" y="506.2" font-size="8.8" text-anchor="end" fill="#2a2a2a" stroke="#2a2a2a" stroke-width="0.25">G2/M: 17%</text>
<path d="M423.9 554.7 L424.9 549 L425.8 532 L426.4 500 L426.8 474.6 L427.2 500 L427.7 532 L428.3 547 L429.5 550.2 L432 551.6 L436 551.8 L438.8 550 L440.4 545 L441.5 541.4 L442.6 545 L443.5 551 L444.4 554.7 Z" fill="#161616" stroke="#161616" stroke-width="0.3" stroke-linejoin="round"/>
<polyline points="410.5,554.7 410.5,472.5 493.5,472.5 493.5,554.7" fill="none" stroke="#8c8c8c" stroke-width="1"/>
<line x1="410.0" y1="554.7" x2="494.0" y2="554.7" stroke="#707070" stroke-width="1"/>
<line x1="409.0" y1="554.7" x2="410.5" y2="554.7" stroke="#777" stroke-width="0.8"/>
<text x="407.3" y="556.7" font-size="5" text-anchor="end" fill="#333" stroke="#333" stroke-width="0.12">0</text>
<line x1="409.0" y1="531.2666666666667" x2="410.5" y2="531.2666666666667" stroke="#777" stroke-width="0.8"/>
<text x="407.3" y="533.2666666666667" font-size="5" text-anchor="end" fill="#333" stroke="#333" stroke-width="0.12">200</text>
<line x1="409.0" y1="507.8333333333333" x2="410.5" y2="507.8333333333333" stroke="#777" stroke-width="0.8"/>
<text x="407.3" y="509.8333333333333" font-size="5" text-anchor="end" fill="#333" stroke="#333" stroke-width="0.12">400</text>
<line x1="409.0" y1="484.4" x2="410.5" y2="484.4" stroke="#777" stroke-width="0.8"/>
<text x="407.3" y="486.4" font-size="5" text-anchor="end" fill="#333" stroke="#333" stroke-width="0.12">600</text>
<line x1="409.5" y1="542.9833333333333" x2="410.5" y2="542.9833333333333" stroke="#aaa" stroke-width="0.6"/>
<line x1="409.5" y1="519.55" x2="410.5" y2="519.55" stroke="#aaa" stroke-width="0.6"/>
<line x1="409.5" y1="496.1166666666667" x2="410.5" y2="496.1166666666667" stroke="#aaa" stroke-width="0.6"/>
<text x="397.9" y="513.8" font-size="5" text-anchor="middle" fill="#333" stroke="#333" stroke-width="0.12" transform="rotate(-90 397.9 513.8)"># Cells</text>
<line x1="411.0" y1="554.7" x2="411.0" y2="556.5" stroke="#777" stroke-width="0.8"/>
<text x="411.0" y="563.9000000000001" font-size="5" text-anchor="middle" fill="#333" stroke="#333" stroke-width="0.12">0</text>
<line x1="427.1" y1="554.7" x2="427.1" y2="556.5" stroke="#777" stroke-width="0.8"/>
<text x="427.1" y="563.9000000000001" font-size="5" text-anchor="middle" fill="#333" stroke="#333" stroke-width="0.12">200</text>
<line x1="443.2" y1="554.7" x2="443.2" y2="556.5" stroke="#777" stroke-width="0.8"/>
<text x="443.2" y="563.9000000000001" font-size="5" text-anchor="middle" fill="#333" stroke="#333" stroke-width="0.12">400</text>
<line x1="459.3" y1="554.7" x2="459.3" y2="556.5" stroke="#777" stroke-width="0.8"/>
<text x="459.3" y="563.9000000000001" font-size="5" text-anchor="middle" fill="#333" stroke="#333" stroke-width="0.12">600</text>
<line x1="475.4" y1="554.7" x2="475.4" y2="556.5" stroke="#777" stroke-width="0.8"/>
<text x="475.4" y="563.9000000000001" font-size="5" text-anchor="middle" fill="#333" stroke="#333" stroke-width="0.12">800</text>
<line x1="491.5" y1="554.7" x2="491.5" y2="556.5" stroke="#777" stroke-width="0.8"/>
<text x="491.5" y="563.9000000000001" font-size="5" text-anchor="middle" fill="#333" stroke="#333" stroke-width="0.12">1000</text>
<line x1="419.05" y1="554.7" x2="419.05" y2="555.9000000000001" stroke="#aaa" stroke-width="0.6"/>
<line x1="435.15" y1="554.7" x2="435.15" y2="555.9000000000001" stroke="#aaa" stroke-width="0.6"/>
<line x1="451.25" y1="554.7" x2="451.25" y2="555.9000000000001" stroke="#aaa" stroke-width="0.6"/>
<line x1="467.35" y1="554.7" x2="467.35" y2="555.9000000000001" stroke="#aaa" stroke-width="0.6"/>
<line x1="483.45" y1="554.7" x2="483.45" y2="555.9000000000001" stroke="#aaa" stroke-width="0.6"/>
<text x="450.65" y="568.9000000000001" font-size="4.85" text-anchor="middle" fill="#333" stroke="#333" stroke-width="0.12">Propidium Iodide</text>
<line x1="422.6" y1="500.8" x2="431.1" y2="500.8" stroke="#5e5e5e" stroke-width="1.1"/>
<line x1="423.0" y1="499.1" x2="423.0" y2="502.5" stroke="#5e5e5e" stroke-width="0.9"/>
<line x1="430.70000000000005" y1="499.1" x2="430.70000000000005" y2="502.5" stroke="#5e5e5e" stroke-width="0.9"/>
<line x1="431.1" y1="517.8" x2="439.3" y2="517.8" stroke="#5e5e5e" stroke-width="1.1"/>
<line x1="431.5" y1="516.0999999999999" x2="431.5" y2="519.5" stroke="#5e5e5e" stroke-width="0.9"/>
<line x1="438.90000000000003" y1="516.0999999999999" x2="438.90000000000003" y2="519.5" stroke="#5e5e5e" stroke-width="0.9"/>
<line x1="438.5" y1="533.3" x2="447.3" y2="533.3" stroke="#5e5e5e" stroke-width="1.1"/>
<line x1="438.9" y1="531.5999999999999" x2="438.9" y2="535.0" stroke="#5e5e5e" stroke-width="0.9"/>
<line x1="446.90000000000003" y1="531.5999999999999" x2="446.90000000000003" y2="535.0" stroke="#5e5e5e" stroke-width="0.9"/>
<text x="489.1" y="484.7" font-size="8.8" text-anchor="end" fill="#2a2a2a" stroke="#2a2a2a" stroke-width="0.25">G1/G0: 69%</text>
<text x="489.1" y="495.45" font-size="8.8" text-anchor="end" fill="#2a2a2a" stroke="#2a2a2a" stroke-width="0.25">S: 10%</text>
<text x="489.1" y="506.2" font-size="8.8" text-anchor="end" fill="#2a2a2a" stroke="#2a2a2a" stroke-width="0.25">G2/M: 20%</text>
</svg>
<div class="frame"></div><div class="frame2"></div>
</body></html>
